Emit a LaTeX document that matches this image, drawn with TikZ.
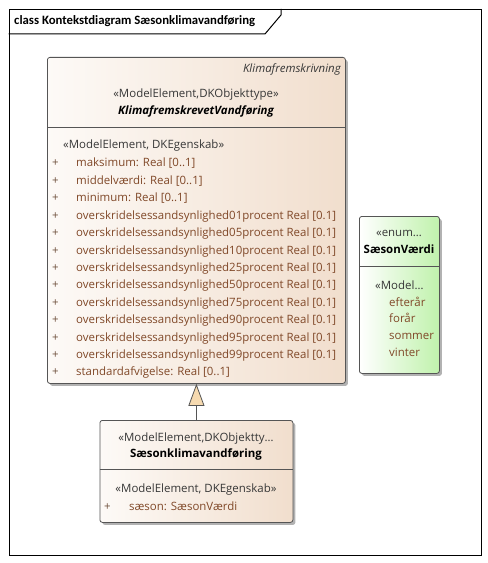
\documentclass[tikz,border=0pt]{standalone}
\usepackage{fontspec}
\setmainfont{Open Sans}
\newfontfamily\titlefont{Carlito}
\usetikzlibrary{arrows.meta,shadows}
\definecolor{boxline}{RGB}{85,85,85}
\definecolor{peachL}{RGB}{253,250,247}
\definecolor{peachR}{RGB}{241,222,205}
\definecolor{greenL}{RGB}{255,255,255}
\definecolor{greenR}{RGB}{192,242,172}
\definecolor{attrcol}{RGB}{128,72,40}
\definecolor{stereocol}{RGB}{55,55,55}
\definecolor{pluscol}{RGB}{110,80,60}
\definecolor{tripeach}{RGB}{246,218,176}
\newcommand\dfs{\fontsize{11.5}{13.5}\selectfont}
\begin{document}
\begin{tikzpicture}[x=1bp,y=-1bp,
 classbox/.style={draw=boxline, line width=0.8bp, rounded corners=2.5bp, anchor=north west, inner sep=0pt,
   drop shadow={shadow xshift=2.5bp, shadow yshift=-2.5bp, fill=black, opacity=0.3}},
 peachbox/.style={classbox, left color=peachL, right color=peachR},
 greenbox/.style={classbox, left color=greenL, right color=greenR},
 txt/.style={inner sep=0pt, font=\dfs, text height=8.5bp, text depth=2.5bp},
 stereo/.style={txt, text=stereocol},
 attr/.style={txt, text=attrcol, anchor=west},
 plus/.style={txt, text=pluscol, anchor=west},
 sep/.style={draw=boxline, line width=0.8bp},
]
\useasboundingbox (0,0) rectangle (488,563);
% frame
\node[draw, line width=1.2bp, minimum width=472bp, minimum height=545.5bp, anchor=north west, inner sep=0pt] (frame) at (8.5,9) {};
\draw[line width=1bp] (8.5,34) -- (265,34) -- (281,15) -- (281,9);
\node[anchor=west, inner sep=0pt, font=\titlefont\bfseries\fontsize{12.8}{15}\selectfont] (title) at (14,21.5) {class Kontekstdiagram Sæsonklimavandføring};

% main class
\node[peachbox, minimum width=298bp, minimum height=326bp] (main) at (47,57) {};
\draw[sep] (47,127) -- (345,127);
\node[stereo, anchor=east, font=\dfs\itshape] (mainpkg) at (341,70) {Klimafremskrivning};
\node[stereo] (mainst) at (196,95) {«ModelElement,DKObjekttype»};
\node[txt, font=\dfs\bfseries\itshape] (mainname) at (196,112) {KlimafremskrevetVandføring};
\node[stereo, anchor=west] (mainattst) at (63,146) {«ModelElement, DKEgenskab»};
\foreach \i/\t in {0/{maksimum: Real [0..1]},
                   1/{middelværdi: Real [0..1]},
                   2/{minimum: Real [0..1]},
                   3/{overskridelsessandsynlighed01procent Real [0.1]},
                   4/{overskridelsessandsynlighed05procent Real [0.1]},
                   5/{overskridelsessandsynlighed10procent Real [0.1]},
                   6/{overskridelsessandsynlighed25procent Real [0.1]},
                   7/{overskridelsessandsynlighed50procent Real [0.1]},
                   8/{overskridelsessandsynlighed75procent Real [0.1]},
                   9/{overskridelsessandsynlighed90procent Real [0.1]},
                   10/{overskridelsessandsynlighed95procent Real [0.1]},
                   11/{overskridelsessandsynlighed99procent Real [0.1]},
                   12/{standardafvigelse: Real [0..1]}}{
  \node[plus] (mainplus\i) at (52,164+17.4*\i) {+};
  \node[attr] (mainattr\i) at (76,164+17.4*\i) {\t};
}

% enum
\node[greenbox, minimum width=80bp, minimum height=157bp] (enum) at (359,216) {};
\draw[sep] (359,266) -- (439,266);
\node[stereo] (enumst) at (399,233) {«enum…};
\node[txt, font=\dfs\bfseries] (enumname) at (399,250) {SæsonVærdi};
\node[stereo, anchor=west] (enumlitst) at (375,286) {«Model…};
\foreach \i/\t in {0/efterår,1/forår,2/sommer,3/vinter}{
  \node[attr] (lit\i) at (389,303+16.8*\i) {\t};
}

% sub class
\node[peachbox, minimum width=193bp, minimum height=102bp] (sub) at (99.5,420) {};
\draw[sep] (99.5,469) -- (292.5,469);
\node[stereo] (subst) at (196,438) {«ModelElement,DKObjektty…};
\node[txt, font=\dfs\bfseries] (subname) at (196,454) {Sæsonklimavandføring};
\node[stereo] (subattst) at (196,489) {«ModelElement, DKEgenskab»};
\node[plus] (subplus) at (104,507) {+};
\node[attr] (subattr) at (129,507) {sæson: SæsonVærdi};

% generalization
\draw[draw=boxline, line width=0.8bp, -{Triangle[length=22bp, width=16bp, fill=tripeach]}] (sub.north) -- (main.south);
\end{tikzpicture}
\end{document}
